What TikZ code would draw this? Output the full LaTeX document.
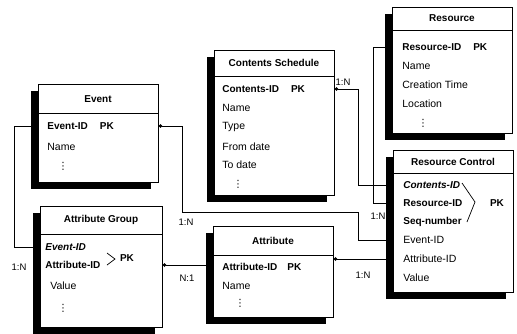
\documentclass[tikz,border=0pt]{standalone}
\usepackage{fontspec}
\setmainfont{Liberation Sans}
\newfontfamily\symfont{DejaVu Sans}
\usetikzlibrary{shadows,arrows.meta}

\begin{document}
\begin{tikzpicture}[x=1pt, y=-1pt, line width=0.7pt,
  tbl/.style={draw, fill=white, anchor=north west, inner sep=0pt, minimum width=120pt,
    drop shadow={shadow xshift=-7pt, shadow yshift=-7pt, fill=black, opacity=1}},
  ttl/.style={inner sep=0pt, font=\fontsize{10}{12}\selectfont\bfseries},
  fld/.style={anchor=west, inner sep=0pt, font=\fontsize{10.5}{12}\selectfont},
  keyfld/.style={anchor=west, inner sep=0pt, font=\fontsize{10}{12}\selectfont\bfseries},
  fkfld/.style={keyfld, font=\fontsize{10}{12}\selectfont\bfseries\itshape},
  more/.style={inner sep=0pt, font=\fontsize{10}{12}\symfont},
  card/.style={inner sep=0pt, font=\fontsize{9.5}{11}\selectfont},
  dotstart/.style={{Circle[length=3.5pt]}-},
  dotend/.style={-{Circle[length=3.5pt]}}]
\useasboundingbox (0,0) rectangle (517,333);

% Event
\node[tbl, minimum height=98pt] (event) at (38,84) {};
\draw (38,113) -- (158,113);
\node[ttl] (evtitle) at (98,99) {Event};
\node[keyfld] (evkey) at (47,126) {Event-ID\hspace{12pt}PK};
\node[fld] (evname) at (47,147) {Name};
\node[more] (evmore) at (63,166) {⋮};

% Contents Schedule
\node[tbl, minimum height=145pt] (cs) at (214,50) {};
\draw (214,76) -- (334,76);
\node[ttl] (cstitle) at (274,63) {Contents Schedule};
\node[keyfld] (cskey) at (222,89) {Contents-ID\hspace{12pt}PK};
\node[fld] (csname) at (222,108) {Name};
\node[fld] (cstype) at (222,127) {Type};
\node[fld] (csfrom) at (222,147) {From date};
\node[fld] (csto) at (222,165) {To date};
\node[more] (csmore) at (238,184) {⋮};

% Resource
\node[tbl, minimum height=126pt] (res) at (392,7) {};
\draw (392,30) -- (512,30);
\node[ttl] (restitle) at (452,18.5) {Resource};
\node[keyfld] (reskey) at (402,47) {Resource-ID\hspace{12pt}PK};
\node[fld] (resname) at (402,66) {Name};
\node[fld] (restime) at (402,85) {Creation Time};
\node[fld] (resloc) at (402,104) {Location};
\node[more] (resmore) at (423,123) {⋮};

% Resource Control
\node[tbl, minimum height=142pt] (rc) at (393,150) {};
\draw (393,173) -- (513,173);
\node[ttl] (rctitle) at (453,161.5) {Resource Control};
\node[fkfld] (rccs) at (403,185) {Contents-ID};
\node[keyfld] (rcres) at (403,203) {Resource-ID};
\node[keyfld] (rcseq) at (403,222) {Seq-number};
\node[fld] (rcev) at (403,240) {Event-ID};
\node[fld] (rcatt) at (403,259) {Attribute-ID};
\node[fld] (rcval) at (403,278) {Value};
\draw (462,183) -- (475,202) -- (467,222);
\node[keyfld, anchor=center] (rcpk) at (497,203) {PK};

% Attribute Group
\node[tbl, minimum width=122pt, minimum height=121pt] (ag) at (40,206) {};
\draw (40,234) -- (162,234);
\node[ttl] (agtitle) at (101,220) {Attribute Group};
\node[fkfld] (agev) at (45,247) {Event-ID};
\node[keyfld] (agatt) at (45,265) {Attribute-ID};
\node[fld] (agval) at (50,286) {Value};
\node[more] (agmore) at (63,308) {⋮};
\draw (107,253) -- (115,259) -- (107,265);
\node[keyfld, anchor=center] (agpk) at (127,258) {PK};

% Attribute
\node[tbl, minimum height=91pt] (att) at (213,226) {};
\draw (213,255) -- (333,255);
\node[ttl] (atttitle) at (273,240.5) {Attribute};
\node[keyfld] (attkey) at (222,267) {Attribute-ID\hspace{10pt}PK};
\node[fld] (attname) at (222,286) {Name};
\node[more] (attmore) at (240,303) {⋮};

% relations
\draw (event.west |- evkey) -- (14,126) |- (ag.west |- agev);
\draw[dotstart] (event.east |- evkey) -- (182,126) -- (182,212) -- (358,212) |- (rc.west |- rcev);
\draw[dotstart] (cs.east |- cskey) -- (358,89) |- (rc.west |- rccs);
\draw (res.west |- reskey) -- (373,47) |- (rc.west |- rcres);
\draw[dotend] (att.west |- agatt) -- (ag.east |- agatt);
\draw[dotstart] (att.east |- rcatt) -- (rc.west |- rcatt);

\node[card] (c1) at (19,267) {1:N};
\node[card] (c2) at (186,222) {1:N};
\node[card] (c3) at (343,82) {1:N};
\node[card] (c4) at (378,216) {1:N};
\node[card] (c5) at (187,278) {N:1};
\node[card] (c6) at (363,275) {1:N};
\end{tikzpicture}
\end{document}
